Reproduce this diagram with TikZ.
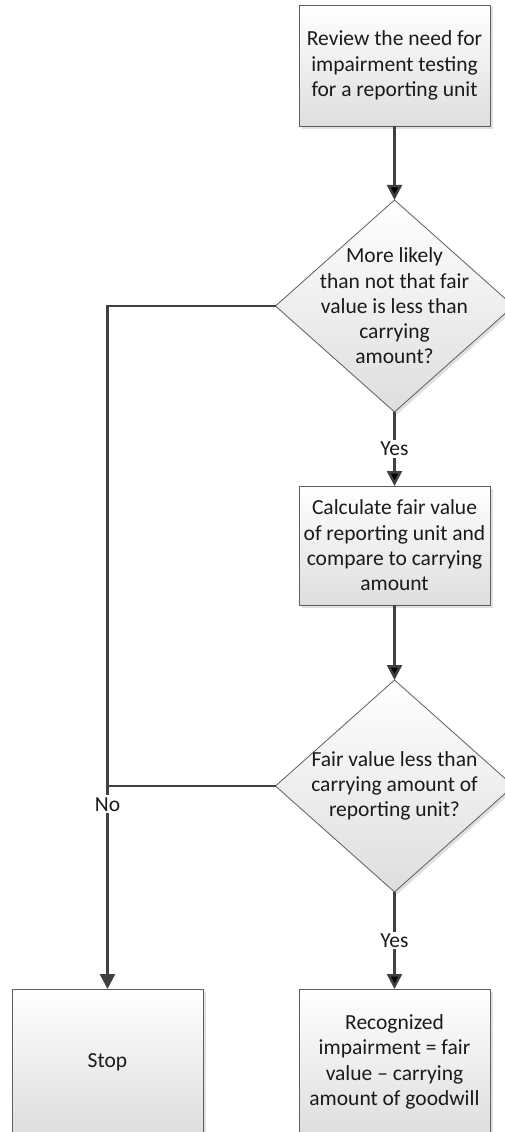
\documentclass[tikz,border=0pt]{standalone}
\usepackage{fontspec}
\setmainfont{Carlito}
\usepackage{tikz}
\usetikzlibrary{arrows.meta, positioning, shapes.geometric, shadows}
\definecolor{linegray}{HTML}{404040}
\definecolor{edgegray}{HTML}{5E5E5E}
\definecolor{inkgray}{HTML}{1A1A1A}
\tikzset{>/.tip={Triangle[length=15pt,width=15pt]}}
\tikzset{stepbox/.style={rectangle, draw=edgegray, line width=0.8pt,
    top color=white, bottom color=black!13, text=inkgray,
    minimum width=191pt, minimum height=121pt, align=center,
    inner sep=0pt, outer sep=0pt,
    drop shadow={shadow xshift=2.5pt, shadow yshift=-2.5pt, fill=black!12, opacity=1},
    font=\fontsize{21.5}{25.3}\selectfont}}
\tikzset{query/.style={diamond, draw=edgegray, line width=0.8pt,
    top color=white, bottom color=black!13,
    minimum width=238pt, minimum height=212pt,
    inner sep=0pt, outer sep=0pt,
    drop shadow={shadow xshift=2.5pt, shadow yshift=-2.5pt, fill=black!12, opacity=1}}}
\tikzset{qtext/.style={align=center, inner sep=0pt, text=inkgray,
    font=\fontsize{21.5}{25.3}\selectfont}}
\tikzset{flow/.style={->, draw=linegray, line width=2.5pt}}
\tikzset{tag/.style={fill=white, inner sep=2pt, text=inkgray,
    font=\fontsize{21.5}{25.3}\selectfont}}
\begin{document}
\begin{tikzpicture}[node distance=74pt, x=1pt, y=1pt]
  \useasboundingbox (0,0) rectangle (505,-1132);
  \node(review) [stepbox] at (394.5,-65.5) {Review the need for\\impairment testing\\for a reporting unit};
  \node(likely) [query, below=of review,
    label={[name=likelytext, qtext]center:More likely\\than not that fair\\value is less than\\carrying\\amount?}] {};
  \node(calc) [stepbox, below=of likely, minimum height=119pt] {Calculate fair value\\of reporting unit and\\compare to carrying\\amount};
  \node(less) [query, below=75pt of calc,
    label={[name=lesstext, qtext]center:Fair value less than\\carrying amount of\\reporting unit?}] {};
  \node(loss) [stepbox, below=97pt of less, minimum height=146pt] {Recognized\\impairment = fair\\value -- carrying\\amount of goodwill};
  \node(stop) [stepbox, left=96pt of loss, minimum height=146pt] {Stop};
  \coordinate(merge) at (stop.north |- less.west);
  \draw[flow]
   (review) edge node{} (likely)
   (likely) edge node[tag]{Yes} (calc)
   (calc) edge node{} (less)
   (less) edge node[tag]{Yes} (loss);
  \draw[flow, -] (likely.west) -| (merge);
  \draw[flow] (less.west) -- (merge) -- node[tag, pos=0.09]{No} (stop.north);
\end{tikzpicture}
\end{document}
